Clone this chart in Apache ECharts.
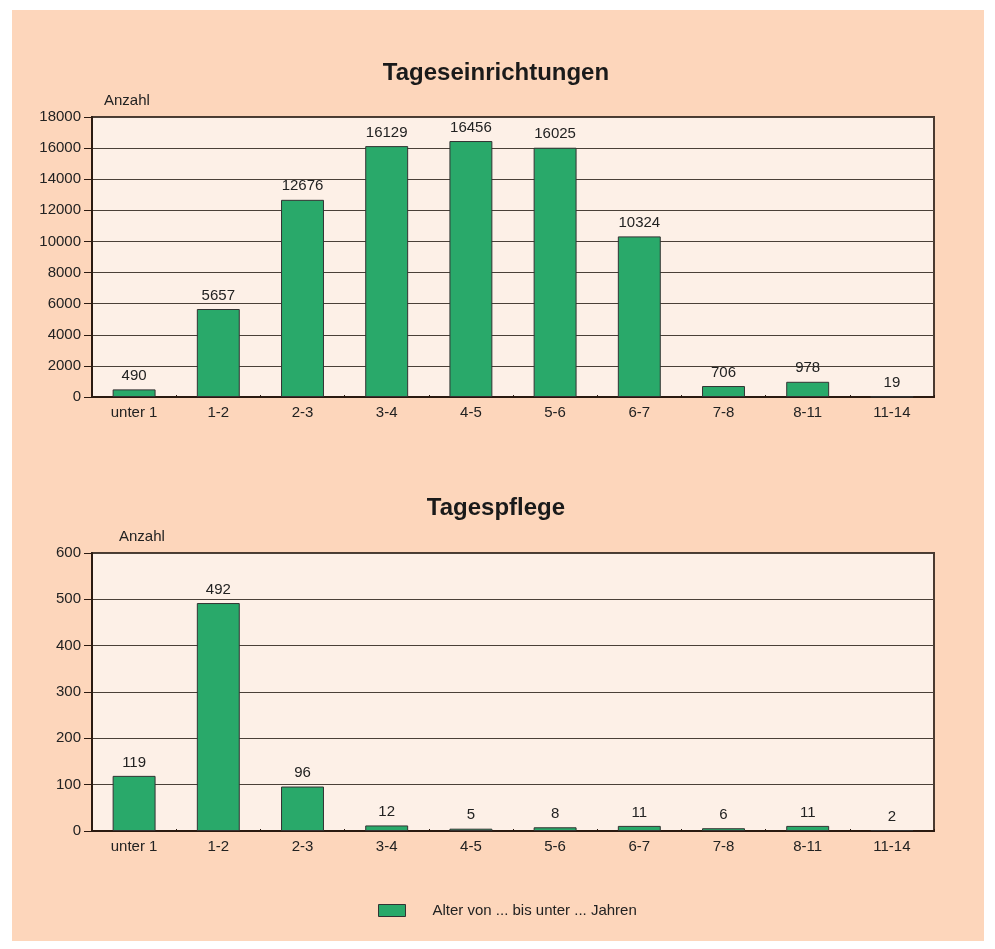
<!DOCTYPE html>
<html>
<head>
    <meta charset="UTF-8">
    <title>Kinder</title>
    <script src="https://cdn.jsdelivr.net/npm/echarts@6/dist/echarts.min.js"></script>
    <style>
        *{margin:0;padding:0}
        html,body{width:995px;height:949px;background:#fff}
        #main{
            position:absolute;
            left:12px;top:10px;
            width:972px;height:931px;
            background:#fdd6bb;
        }
    </style>
</head>
<body>
<div id="main"></div>
<script type="text/javascript">
    var categories = ['unter 1','1-2','2-3','3-4','4-5','5-6','6-7','7-8','8-11','11-14'];
    var tageseinrichtungen = [490, 5657, 12676, 16129, 16456, 16025, 10324, 706, 978, 19];
    var tagespflege = [119, 492, 96, 12, 5, 8, 11, 6, 11, 2];
    var seriesName = 'Alter von ... bis unter ... Jahren';

    var myChart = echarts.init(document.getElementById('main'));
    var font = 'Liberation Sans, Arial, sans-serif';

    function xAx(idx) {
        return {
            type: 'category', gridIndex: idx, data: categories,
            axisLine: {lineStyle: {color: '#2b1a10', width: 2}},
            axisTick: {show: true, inside: true, length: 2, lineStyle: {color: '#2b1a10'}},
            axisLabel: {color: '#222', fontSize: 15, fontFamily: font, margin: 8}
        };
    }
    function yAx(idx, max, interval, pad) {
        return {
            type: 'value', gridIndex: idx, min: 0, max: max, interval: interval,
            name: 'Anzahl', nameLocation: 'end', nameGap: 9,
            nameTextStyle: {color: '#222', fontSize: 15, fontFamily: font, align: 'left', padding: [0, 0, 0, pad]},
            axisLine: {show: true, lineStyle: {color: '#2b1a10', width: 2}},
            axisTick: {show: true, length: 8, lineStyle: {color: '#2b1a10'}},
            axisLabel: {color: '#222', fontSize: 15, fontFamily: font, margin: 11,
                        formatter: function (v) { return String(v); }},
            splitLine: {lineStyle: {color: '#4a4038', width: 1}}
        };
    }
    function barSeries(idx, data) {
        return {
            name: seriesName, type: 'bar', xAxisIndex: idx, yAxisIndex: idx,
            data: data, barWidth: '51%',
            itemStyle: {color: '#29a96a', borderColor: '#333', borderWidth: 1},
            label: {show: true, position: 'top', distance: 6, color: '#222', fontSize: 15, fontFamily: font}
        };
    }

    var option = {
        animation: false,
        title: [
            {text: 'Tageseinrichtungen', left: 479, top: 46, textAlign: 'center',
             textStyle: {fontSize: 24, fontWeight: 'bold', color: '#1a1a1a', fontFamily: font}},
            {text: 'Tagespflege', left: 479, top: 481, textAlign: 'center',
             textStyle: {fontSize: 24, fontWeight: 'bold', color: '#1a1a1a', fontFamily: font}}
        ],
        legend: {
            bottom: 18, left: 361,
            itemWidth: 27, itemHeight: 12,
            icon: 'rect',
            data: [seriesName],
            textStyle: {color: '#222', fontSize: 15, fontFamily: font, padding: [0, 0, 0, 22]},
            itemStyle: {borderColor: '#333', borderWidth: 1}
        },
        grid: [
            {left: 80, top: 107, width: 842, height: 280, backgroundColor: '#fdf0e7', show: true,
             borderWidth: 2, borderColor: '#4a3a30'},
            {left: 80, top: 543, width: 842, height: 278, backgroundColor: '#fdf0e7', show: true,
             borderWidth: 2, borderColor: '#4a3a30'}
        ],
        xAxis: [xAx(0), xAx(1)],
        yAxis: [yAx(0, 18000, 2000, 12), yAx(1, 600, 100, 27)],
        series: [barSeries(0, tageseinrichtungen), barSeries(1, tagespflege)]
    };
    myChart.setOption(option);
</script>
</body>
</html>
